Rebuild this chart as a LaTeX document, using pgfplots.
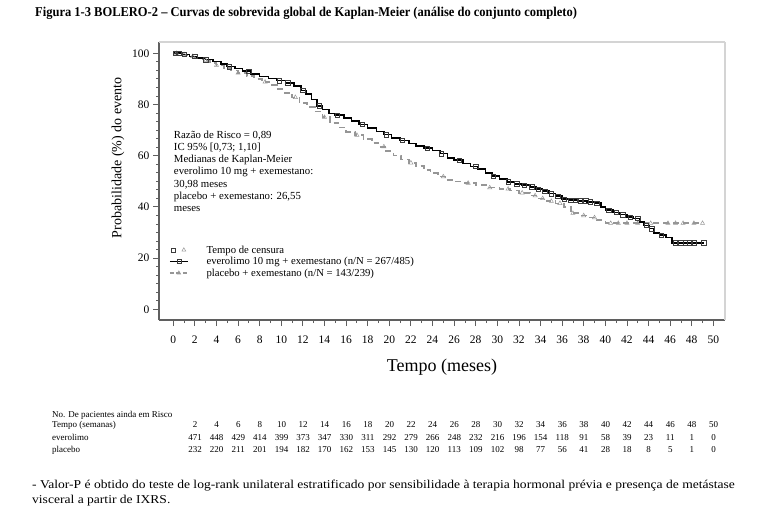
\documentclass[border=0pt]{standalone}
\usepackage{pgfplots}
\pgfplotsset{compat=1.18}
\usepackage{fontspec}
\setmainfont{Liberation Serif}
\definecolor{plgray}{RGB}{150,150,150}
\definecolor{framegray}{RGB}{212,212,212}
\definecolor{axgray}{RGB}{95,95,95}
\definecolor{sqgray}{RGB}{60,60,60}
\begin{document}
\begin{tikzpicture}[x=1pt,y=1pt]
\path[use as bounding box] (0,0) rectangle (777,-519);
\node[anchor=west, inner sep=0] at (35,-13) {\scalebox{0.926}[1]{\fontsize{13.5}{15}\selectfont\bfseries Figura 1-3 BOLERO-2 – Curvas de sobrevida global de Kaplan-Meier (análise do conjunto completo)}};
\begin{axis}[
  at={(159pt,-320pt)}, anchor=south west,
  scale only axis, width=566pt, height=278pt,
  xmin=-1.32, xmax=51.08, ymin=-4.18, ymax=104.4,
  axis x line*=bottom, axis y line*=left,
  axis line style={-, axgray, line width=1.3pt},
  xtick={0,2,...,50}, minor xtick={1,3,...,49},
  ytick={0,20,...,100}, minor y tick num=5,
  tick align=outside, major tick length=6pt, minor tick length=3pt,
  every tick/.style={axgray, line width=0.8pt},
  ticklabel style={font=\fontsize{11.5}{13}\selectfont},
  /pgf/number format/assume math mode=true,
  xticklabel style={yshift=-6pt},
  yticklabel style={xshift=0pt},
  xlabel={Tempo (meses)},
  xlabel style={at={(axis description cs:0.5,0)}, anchor=center, yshift=-47pt, font=\fontsize{18}{20}\selectfont},
  ylabel={Probabilidade (\%) do evento},
  ylabel style={at={(axis description cs:0,0.583)}, anchor=center, yshift=41pt, font=\fontsize{14}{16}\selectfont},
  clip=false,
  legend style={at={(axis cs:-0.4,25.2)}, anchor=north west, draw=none, fill=none,
     font=\fontsize{10.7}{11.5}\selectfont, row sep=1.6pt, inner sep=0pt,
     cells={anchor=west}, nodes={inner sep=1pt, text depth=0.5pt},
     /tikz/every odd column/.style={column sep=17pt}},
  legend image code/.code={\draw[mark repeat=2,mark phase=2,#1] plot coordinates {(0pt,0pt)(9pt,0pt)(18pt,0pt)};},
]
\addlegendimage{legend image code/.code={
  \draw[sqgray, line width=0.5pt] plot[mark=square, mark size=2pt] coordinates {(3pt,0pt)};
  \draw[plgray, line width=0.5pt] plot[mark=triangle, mark size=2.2pt] coordinates {(14pt,0pt)};}}
\addlegendentry{Tempo de censura}
\addlegendimage{black, line width=1.4pt, mark=square, mark size=2pt, mark options={solid, sqgray, line width=0.5pt}}
\addlegendentry{everolimo 10 mg + exemestano (n/N = 267/485)}
\addlegendimage{plgray, line width=1.4pt, dash pattern=on 4pt off 2.5pt, mark=triangle, mark size=2.2pt, mark options={solid, line width=0.5pt}}
\addlegendentry{placebo + exemestano (n/N = 143/239)}

% placebo + exemestano
\addplot[const plot, plgray, line width=1.6pt, dash pattern=on 6pt off 4pt, forget plot] coordinates {
(0,100)(0.6,99.5)(1.3,98.8)(2,98)(2.7,97.2)(3.4,96.2)(4,95.3)(4.7,94.2)(5.3,93.2)(6,92.3)
(6.8,91.2)(7.5,90)(8.2,88.8)(8.9,87.5)(9.6,86)(10.3,84.5)(11,82.8)(11.7,80.5)(12.4,79)(13.1,77.2)
(13.8,75)(14.5,72.8)(15.3,71)(16,69.3)(16.8,68)(17.6,66.5)(18.4,65)(19,63.5)(19.7,61.8)(20.4,60)
(21.1,58.5)(21.8,57.2)(22.5,56)(23.2,54.5)(23.8,53.2)(24.5,51.8)(25.2,50.6)(26,49.9)(27,49.3)(28,48.5)
(29,47.5)(30.2,47)(31.2,46.4)(32,45.5)(33,44.4)(33.8,43.3)(34.6,42.2)(35.4,41.4)(36.2,40)(36.8,37.5)
(37.6,36.6)(38.4,35.8)(39.2,34.8)(40,33.6)(49,33.6)};
\addplot[only marks, mark=triangle, mark size=2.4pt, plgray, mark options={line width=0.5pt}, forget plot] coordinates {
(0.3,100)(1,99.5)(1.8,98.8)(3,97.2)(4,95.3)(6,92.3)(8.5,88.8)(11.3,82.8)(14,75)(17,68)
(19.5,63.5)(22,57.2)(25,51.8)(27.3,49.3)(29.3,47.5)(31,47)(32.3,45.5)(33.5,44.4)(34.2,43.3)(35,42.2)
(35.8,41.4)(37,37.5)(38,36.6)(39,35.8)(40.5,33.6)(41.2,33.6)(42,33.6)(43,33.6)(44.2,33.6)(45.8,33.6)
(46.5,33.6)(47.2,33.6)(48.2,33.6)(49,33.6)};

% everolimo + exemestano
\addplot[const plot, black, line width=1.6pt, forget plot] coordinates {
(0,100)(0.8,99.5)(1.5,98.8)(2.2,98.2)(3,97.5)(3.7,96.8)(4.4,95.8)(5,94.8)(5.7,94)(6.4,93)
(7.2,92)(8,91)(8.8,90.2)(9.6,89.3)(10.4,88.5)(11.2,87.3)(11.8,85.5)(12.3,84)(12.8,82)(13.3,79.5)
(13.8,78)(14.4,76.5)(15,75.8)(15.8,74.8)(16.5,73.5)(17.2,72.2)(18,70.8)(18.8,69.5)(19.5,68.2)(20.2,67)
(21,66)(21.8,64.8)(22.5,63.8)(23.2,63)(24,62)(24.7,60.8)(25.4,59.2)(26,58.2)(26.8,57)(27.5,55.8)
(28.2,54.8)(28.9,53.3)(29.5,52)(30.2,50.8)(30.9,49.8)(31.6,49)(32.3,48.5)(33,47.8)(33.6,47)(34.2,46.2)
(34.8,45.2)(35.4,44.2)(36,43)(36.6,42.6)(37.5,42.4)(38.3,42)(39,41.5)(39.6,40)(40,38.8)(40.7,37.8)
(41.3,37)(42,36)(42.6,35.5)(43.2,34)(43.6,32.8)(44.1,31.5)(44.5,29.8)(45,29)(45.6,28.1)(46.2,26)
(49.1,26)};
\addplot[only marks, mark=square, mark size=2.2pt, sqgray, mark options={line width=0.5pt}, forget plot] coordinates {
(0.2,100)(0.5,100)(1,99.5)(2,98.8)(3,97.5)(5.2,94.8)(7,93)(9.8,89.3)(10.6,88.5)(12,85.5)
(13.5,79.5)(15.2,75.8)(17.5,72.2)(19.7,68.2)(21.2,66)(23.5,63)(24.8,60.8)(26.5,58.2)(28,55.8)(29.6,52)
(31,49.8)(31.8,49)(32.5,48.5)(33.2,47.8)(33.8,47)(34.4,46.2)(35,45.2)(35.6,44.2)(36.2,43)(36.8,42.6)
(37.2,42.6)(37.7,42.4)(38.2,42.4)(38.6,42)(39.2,41.5)(40.3,38.8)(41,37.8)(41.6,37)(42.3,36)(43,35.5)
(43.8,32.8)(44.3,31.5)(45.2,29)(46.5,26)(47,26)(47.4,26)(47.8,26)(48.2,26)(49.1,26)};

% frame top/right
\draw[framegray, line width=2.2pt] (rel axis cs:0,1) -- (rel axis cs:1,1);
\draw[framegray, line width=1.2pt] (rel axis cs:1,1) -- (rel axis cs:1,0);

% annotation
\node[anchor=north west, inner sep=0pt, align=left, font=\fontsize{10.8}{12.2}\selectfont] at (axis cs:0.05,69.8)
 {Razão de Risco = 0,89\\ IC 95\% [0,73; 1,10]\\ Medianas de Kaplan-Meier\\ everolimo 10 mg + exemestano:\\ 30,98 meses\\ placebo + exemestano: 26,55\\ meses};
\end{axis}

% risk table
\begin{scope}[every node/.style={inner sep=0pt, font=\fontsize{9}{10}\selectfont}]
\node[anchor=west] at (52,-415) {No. De pacientes ainda em Risco};
\node[anchor=west] at (52,-425) {Tempo (semanas)};
\node[anchor=west] at (52,-437.5) {everolimo};
\node[anchor=west] at (52,-450) {placebo};
\foreach \t/\e/\p in {2/471/232,4/448/220,6/429/211,8/414/201,10/399/194,12/373/182,14/347/170,16/330/162,18/311/153,20/292/145,22/279/130,24/266/120,26/248/113,28/232/109,30/216/102,32/196/98,34/154/77,36/118/56,38/91/41,40/58/28,42/39/18,44/23/8,46/11/5,48/1/1,50/0/0}{
  \node at ({173.5+10.8*\t},-425) {\t};
  \node at ({173.5+10.8*\t},-437.5) {\e};
  \node at ({173.5+10.8*\t},-450) {\p};
}
\end{scope}

% footnote
\node[anchor=west, inner sep=0pt] at (32,-486) {\scalebox{1.13}[1]{\fontsize{12}{13}\selectfont - Valor-P é obtido do teste de log-rank unilateral estratificado por sensibilidade à terapia hormonal prévia e presença de metástase}};
\node[anchor=west, inner sep=0pt] at (32,-501) {\scalebox{1.13}[1]{\fontsize{12}{13}\selectfont visceral a partir de IXRS.}};
\end{tikzpicture}
\end{document}
